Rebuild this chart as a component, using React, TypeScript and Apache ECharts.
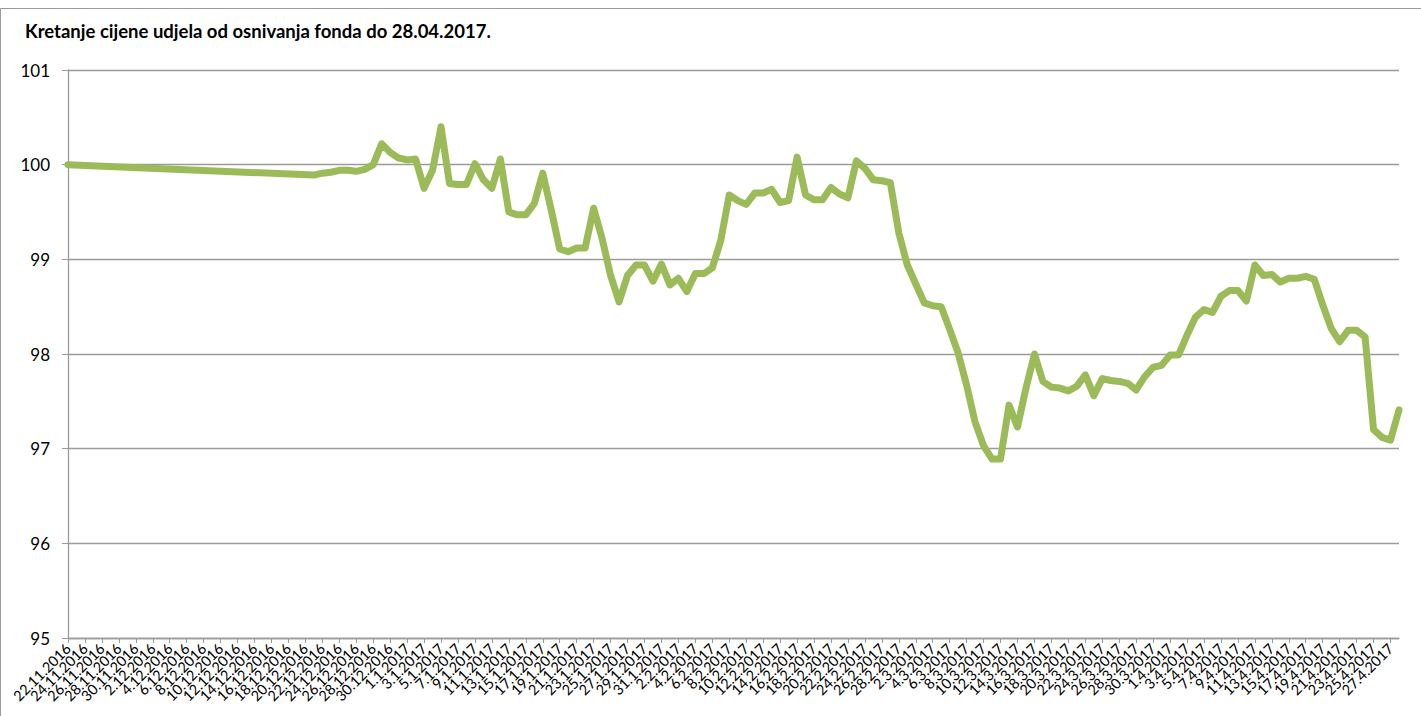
import React, { useEffect, useRef } from "react";
import * as echarts from "echarts";

const titleText = "Kretanje cijene udjela od osnivanja fonda do 28.04.2017.";

const datesNov = ["22.11.2016","23.11.2016","24.11.2016","25.11.2016","26.11.2016","27.11.2016","28.11.2016","29.11.2016","30.11.2016"];
const datesDec = ["1.12.2016","2.12.2016","3.12.2016","4.12.2016","5.12.2016","6.12.2016","7.12.2016","8.12.2016","9.12.2016","10.12.2016","11.12.2016","12.12.2016","13.12.2016","14.12.2016","15.12.2016","16.12.2016","17.12.2016","18.12.2016","19.12.2016","20.12.2016","21.12.2016","22.12.2016","23.12.2016","24.12.2016","25.12.2016","26.12.2016","27.12.2016","28.12.2016","29.12.2016","30.12.2016","31.12.2016"];
const datesJan = ["1.1.2017","2.1.2017","3.1.2017","4.1.2017","5.1.2017","6.1.2017","7.1.2017","8.1.2017","9.1.2017","10.1.2017","11.1.2017","12.1.2017","13.1.2017","14.1.2017","15.1.2017","16.1.2017","17.1.2017","18.1.2017","19.1.2017","20.1.2017","21.1.2017","22.1.2017","23.1.2017","24.1.2017","25.1.2017","26.1.2017","27.1.2017","28.1.2017","29.1.2017","30.1.2017","31.1.2017"];
const datesFeb = ["1.2.2017","2.2.2017","3.2.2017","4.2.2017","5.2.2017","6.2.2017","7.2.2017","8.2.2017","9.2.2017","10.2.2017","11.2.2017","12.2.2017","13.2.2017","14.2.2017","15.2.2017","16.2.2017","17.2.2017","18.2.2017","19.2.2017","20.2.2017","21.2.2017","22.2.2017","23.2.2017","24.2.2017","25.2.2017","26.2.2017","27.2.2017","28.2.2017"];
const datesMar = ["1.3.2017","2.3.2017","3.3.2017","4.3.2017","5.3.2017","6.3.2017","7.3.2017","8.3.2017","9.3.2017","10.3.2017","11.3.2017","12.3.2017","13.3.2017","14.3.2017","15.3.2017","16.3.2017","17.3.2017","18.3.2017","19.3.2017","20.3.2017","21.3.2017","22.3.2017","23.3.2017","24.3.2017","25.3.2017","26.3.2017","27.3.2017","28.3.2017","29.3.2017","30.3.2017","31.3.2017"];
const datesApr = ["1.4.2017","2.4.2017","3.4.2017","4.4.2017","5.4.2017","6.4.2017","7.4.2017","8.4.2017","9.4.2017","10.4.2017","11.4.2017","12.4.2017","13.4.2017","14.4.2017","15.4.2017","16.4.2017","17.4.2017","18.4.2017","19.4.2017","20.4.2017","21.4.2017","22.4.2017","23.4.2017","24.4.2017","25.4.2017","26.4.2017","27.4.2017","28.4.2017"];

const categories = [...datesNov, ...datesDec, ...datesJan, ...datesFeb, ...datesMar, ...datesApr];

const unitPrice = [
  100.0,
  null, null, null, null, null, null, null, null, null, null,
  null, null, null, null, null, null, null, null, null, null,
  null, null, null, null, null, null, null, null,
  99.89, 99.91, 99.92, 99.94, 99.94, 99.93, 99.95, 100.0, 100.22,
  100.13, 100.07, 100.05, 100.06, 99.75, 99.94, 100.4, 99.8, 99.79, 99.79,
  100.01, 99.84, 99.75, 100.06, 99.5, 99.47, 99.47, 99.59, 99.91, 99.52,
  99.11, 99.08, 99.12, 99.12, 99.54, 99.22, 98.83, 98.55, 98.83, 98.94,
  98.94, 98.77, 98.95, 98.73, 98.8, 98.66, 98.85, 98.85, 98.91, 99.2,
  99.68, 99.62, 99.58, 99.7, 99.7, 99.74, 99.6, 99.62, 100.08, 99.68,
  99.63, 99.63, 99.76, 99.69, 99.65, 100.04, 99.96, 99.84, 99.83, 99.81,
  99.28, 98.94, 98.74, 98.54, 98.51, 98.5, 98.26, 98.01, 97.67, 97.28,
  97.03, 96.89, 96.89, 97.46, 97.23, 97.64, 98.0, 97.71, 97.65, 97.64,
  97.61, 97.66, 97.78, 97.56, 97.74, 97.72, 97.71, 97.69, 97.62, 97.76,
  97.86, 97.88, 97.99, 97.99, 98.2, 98.39, 98.47, 98.44, 98.61, 98.67,
  98.67, 98.56, 98.94, 98.83, 98.84, 98.76, 98.8, 98.8, 98.82, 98.79,
  98.52, 98.27, 98.13, 98.25, 98.25, 98.18, 97.2, 97.12, 97.09, 97.41,
];

const yMin = 95;
const yMax = 101;
const yStep = 1;

const FONT = "Lato, 'Noto Sans', sans-serif";

export default function App() {
  const ref = useRef<HTMLDivElement>(null);

  useEffect(() => {
    if (!ref.current) return;
    const chart = echarts.init(ref.current, null, { renderer: "svg" });
    const everyOther = (idx: number) => idx % 2 === 0;
    chart.setOption({
      animation: false,
      backgroundColor: "#ffffff",
      title: {
        text: titleText,
        left: 25,
        top: 21,
        padding: 0,
        textStyle: { fontFamily: FONT, fontSize: 18.5, fontWeight: "bold", color: "#000" },
      },
      graphic: [
        {
          type: "rect",
          shape: { x: 0.5, y: 8.5, width: 1500, height: 800 },
          style: { fill: "none", stroke: "#9a9a9a", lineWidth: 1 },
          silent: true,
        },
      ],
      grid: { left: 68, right: 22, top: 70, bottom: 78, containLabel: false, outerBoundsMode: "none" },
      xAxis: {
        type: "category",
        data: categories,
        boundaryGap: false,
        axisLine: { show: true, lineStyle: { color: "#9a9a9a", width: 1.3 } },
        axisTick: { show: true, interval: everyOther, length: 5, lineStyle: { color: "#9a9a9a" } },
        axisLabel: {
          interval: 0,
          formatter: (value: string, idx: number) => (idx % 2 === 0 ? value : ""),
          hideOverlap: false,
          rotate: 45,
          margin: 8,
          fontSize: 14.5,
          color: "#000",
          fontFamily: FONT,
        },
        splitLine: { show: false },
      },
      yAxis: {
        type: "value",
        min: yMin,
        max: yMax,
        interval: yStep,
        axisLine: { show: true, lineStyle: { color: "#9a9a9a", width: 1.3 } },
        axisTick: { show: true, length: 6, lineStyle: { color: "#9a9a9a" } },
        axisLabel: { fontSize: 17, color: "#000", fontFamily: FONT, margin: 18 },
        splitLine: { show: true, lineStyle: { color: "#9a9a9a", width: 1.3 } },
      },
      series: [
        {
          type: "line",
          data: unitPrice,
          connectNulls: true,
          showSymbol: false,
          symbol: "none",
          lineStyle: { color: "#9BBB59", width: 7, cap: "round", join: "round" },
        },
      ],
    });
    return () => chart.dispose();
  }, []);

  return (
    <div
      ref={ref}
      style={{ position: "fixed", left: 0, top: 0, width: 1421, height: 716, background: "#fff" }}
    />
  );
}
